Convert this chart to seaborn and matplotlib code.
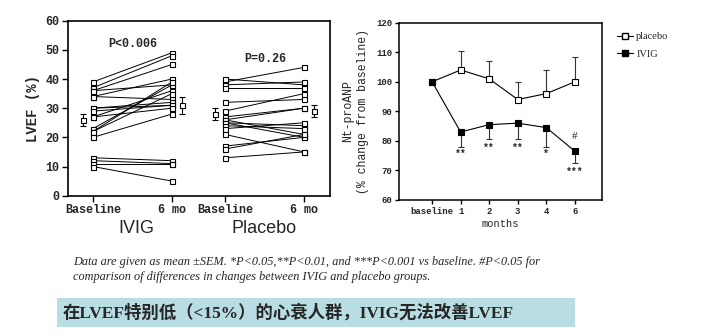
import numpy as np
import pandas as pd
import seaborn as sns
import matplotlib.pyplot as plt
from matplotlib.lines import Line2D
from matplotlib.patches import Rectangle

# ---- LVEF (%) per patient: baseline -> 6 months ----
ivig_base = [39, 37, 36, 36, 34, 34, 30, 30, 29, 27, 27, 23, 22, 22, 20, 13, 12, 11, 10]
ivig_6mo  = [49, 48, 38, 45, 40, 33, 31, 32, 31, 36, 30, 38, 39, 35, 28, 12, 11, 11, 5]
plac_base = [39, 40, 38, 37, 32, 29, 27, 26, 26, 25, 25, 24, 23, 21, 17, 16, 13]
plac_6mo  = [44, 38, 39, 37, 33, 35, 30, 30, 21, 24, 20, 23, 25, 15, 20, 21, 15]

# group means +/- SEM
mean_vals = [26, 31, 28, 29]
mean_sem  = [2, 3, 2, 2]

lvef_ticks = ["Baseline", "6 mo", "Baseline", "6 mo"]
group_names = ["IVIG", "Placebo"]
p_texts = ["P<0.006", "P=0.26"]

# ---- Nt-proANP (% change from baseline) ----
months = ["baseline", "1", "2", "3", "4", "6"]
placebo_anp = [100, 104, 101, 94, 96, 100]
placebo_err = [0, 6.5, 6.2, 6.0, 8.0, 8.5]
ivig_anp = [100, 83, 85.5, 86, 84.5, 76.5]
ivig_err = [0, 5.0, 5.0, 5.5, 6.5, 4.0]
sig_marks = ["", "**", "**", "**", "*", "***"]
sig_y = [None, 75.5, 77.5, 77.5, 75.5, 69.5]

caption = ["Data are given as mean \u00b1SEM. *P<0.05,**P<0.01, and ***P<0.001 vs baseline. #P<0.05 for",
           "comparison of differences in changes between IVIG and placebo groups."]
banner = "在LVEF特别低（<15%）的心衰人群，IVIG无法改善LVEF"

sns.set_style("ticks")
plt.rcParams["font.family"] = ["Liberation Mono", "DejaVu Sans"]

fig = plt.figure(figsize=(7.14, 3.36), dpi=100)

# x slots for the paired columns
slot = [0.0, 1.0, 1.671, 2.671]

# ---------------- left panel ----------------
ax1 = fig.add_axes([0.0952, 0.4176, 0.367, 0.5208])
rows = []
sid = 0
for b, s in zip(ivig_base, ivig_6mo):
    rows += [(sid, slot[0], b), (sid, slot[1], s)]
    sid += 1
for b, s in zip(plac_base, plac_6mo):
    rows += [(sid, slot[2], b), (sid, slot[3], s)]
    sid += 1
df = pd.DataFrame(rows, columns=["subject", "pos", "lvef"])
sns.lineplot(data=df, x="pos", y="lvef", units="subject", estimator=None,
             color="black", lw=0.7, marker="s", markersize=3.6,
             markerfacecolor="white", markeredgecolor="black",
             markeredgewidth=0.8, legend=False, ax=ax1)

mean_x = [slot[0] - 0.13, slot[1] + 0.13, slot[2] - 0.13, slot[3] + 0.13]
ax1.errorbar(mean_x, mean_vals, yerr=mean_sem, fmt="s", ms=3.6, mfc="white",
             mec="black", mew=0.8, ecolor="black", elinewidth=0.8,
             capsize=2, capthick=0.8)

ax1.set_xlim(-0.316, 3.0)
ax1.set_ylim(0, 60)
ax1.set_yticks(range(0, 61, 10))
ax1.set_xticks(slot)
ax1.set_xticklabels(lvef_ticks)
ax1.set_xlabel("")
ax1.set_ylabel("LVEF (%)", fontsize=10, fontweight="bold", labelpad=4)
for sp in ax1.spines.values():
    sp.set_visible(True)
    sp.set_linewidth(1.2)
    sp.set_color("black")
ax1.tick_params(axis="both", direction="out", length=4, width=1.0,
                labelsize=8.5, color="black", pad=2)
for lab in ax1.get_xticklabels() + ax1.get_yticklabels():
    lab.set_fontweight("bold")

ax1.text(0.5, 52, p_texts[0], ha="center", va="center", fontsize=8.5, fontweight="bold")
ax1.text(2.18, 47, p_texts[1], ha="center", va="center", fontsize=8.5, fontweight="bold")

ax1.text(0.55, -0.185, group_names[0], transform=ax1.get_xaxis_transform(),
         ha="center", va="center", fontsize=13, family="Liberation Sans")
ax1.text(2.17, -0.185, group_names[1], transform=ax1.get_xaxis_transform(),
         ha="center", va="center", fontsize=13, family="Liberation Sans")

# ---------------- right panel ----------------
ax2 = fig.add_axes([0.5588, 0.4048, 0.2843, 0.5276])
x = np.arange(len(months))
dfp = pd.DataFrame({"x": x, "v": placebo_anp})
dfi = pd.DataFrame({"x": x, "v": ivig_anp})

ax2.errorbar(x, placebo_anp, yerr=[np.zeros(len(x)), placebo_err], fmt="none",
             ecolor="#333333", elinewidth=0.8, capsize=2, capthick=0.8)
ax2.errorbar(x, ivig_anp, yerr=[ivig_err, np.zeros(len(x))], fmt="none",
             ecolor="#333333", elinewidth=0.8, capsize=2, capthick=0.8)
sns.lineplot(data=dfp, x="x", y="v", color="black", lw=0.8, marker="s",
             markersize=4.2, markerfacecolor="white", markeredgecolor="black",
             markeredgewidth=0.8, ax=ax2)
sns.lineplot(data=dfi, x="x", y="v", color="black", lw=0.8, marker="s",
             markersize=4.2, markerfacecolor="black", markeredgecolor="black",
             markeredgewidth=0.8, ax=ax2)

for xi, m, yy in zip(x, sig_marks, sig_y):
    if m:
        ax2.text(xi, yy, m, ha="center", va="center", fontsize=7, fontweight="bold")
ax2.text(x[-1], 81.5, "#", ha="center", va="center", fontsize=8,
         family="Liberation Serif")

ax2.set_xlim(-1.16, 5.95)
ax2.set_ylim(60, 120)
ax2.set_yticks(range(60, 121, 10))
ax2.set_xticks(x)
ax2.set_xticklabels(months)
ax2.set_xlabel("months", fontsize=7.5, labelpad=2)
ax2.set_ylabel("Nt-proANP\n(% change from baseline)", fontsize=8.3, labelpad=5,
               linespacing=1.3)
for sp in ax2.spines.values():
    sp.set_visible(True)
    sp.set_linewidth(1.1)
    sp.set_color("black")
ax2.tick_params(axis="both", direction="out", length=3, width=1.0,
                labelsize=6.5, color="black", pad=2)
for lab in ax2.get_xticklabels() + ax2.get_yticklabels():
    lab.set_fontweight("bold")

handles = [Line2D([], [], color="black", lw=0.8, marker="s", ms=4, mfc="white", mec="black"),
           Line2D([], [], color="black", lw=0.8, marker="s", ms=4, mfc="black", mec="black")]
ax2.legend(handles, ["placebo", "IVIG"], loc="upper left", bbox_to_anchor=(1.03, 1.0),
           frameon=False, handlelength=1.5, handletextpad=0.3,
           labelspacing=0.8, prop={"family": "Liberation Serif", "size": 7.5})

# ---------------- caption and banner ----------------
fig.text(0.102, 0.22, caption[0], ha="left", va="center", fontsize=8.8,
         family="Liberation Serif", style="italic")
fig.text(0.102, 0.176, caption[1], ha="left", va="center", fontsize=8.8,
         family="Liberation Serif", style="italic")

fig.patches.append(Rectangle((0.0798, 0.027), 0.725, 0.086, transform=fig.transFigure,
                             facecolor="#b8dde3", edgecolor="none", zorder=0))
fig.text(0.087, 0.07, banner, ha="left", va="center", fontsize=12.5, fontweight="bold",
         family=["Liberation Serif", "Noto Sans CJK SC"])

fig.savefig("out.png", dpi=100)
